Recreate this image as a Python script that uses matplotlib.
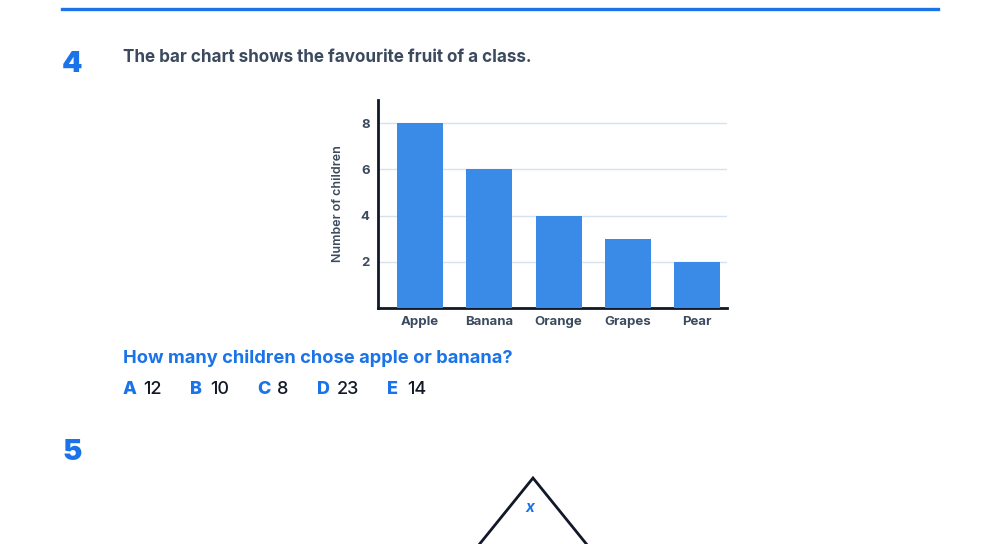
import matplotlib
matplotlib.use("Agg")
import matplotlib.pyplot as plt
from matplotlib.lines import Line2D

plt.rcParams['font.family'] = ['Inter', 'DejaVu Sans']

fruits = ["Apple", "Banana", "Orange", "Grapes", "Pear"]
children = [8, 6, 4, 3, 2]
yticks = [2, 4, 6, 8]
answer_letters = ["A", "B", "C", "D", "E"]
answer_values = ["12", "10", "8", "23", "14"]

W, H = 1000, 544
BLUE = "#1a73e8"
BAR = "#3a8ae8"
SLATE = "#3b4a5e"
DARK = "#111827"

fig = plt.figure(figsize=(W / 100, H / 100), dpi=100)

def fx(x):
    return x / W

def fy(y):
    return 1 - y / H

# top rule
fig.add_artist(Line2D([fx(62), fx(938)], [fy(9), fy(9)], color=BLUE, lw=2.4,
                      transform=fig.transFigure))

fig.text(fx(62), fy(64), "4", color=BLUE, fontsize=21, fontweight="black", va="center", ha="left")
fig.text(fx(123), fy(58), "The bar chart shows the favourite fruit of a class.", color=SLATE,
         fontsize=12.3, fontweight="bold", va="center", ha="left")

ax = fig.add_axes([fx(378), fy(308), fx(727) - fx(378), fy(100) - fy(308)])
x = list(range(len(fruits)))
ax.bar(x, children, width=0.665, color=BAR, zorder=3)
ax.set_xlim(-0.607, 4.43)
ax.set_ylim(0, 9)
ax.set_yticks(yticks)
ax.set_xticks(x)
ax.set_xticklabels(fruits)
ax.grid(axis="y", color="#d6e2f0", lw=1, zorder=0)
ax.tick_params(length=0, labelsize=9.5, labelcolor=SLATE)
for lab in ax.get_xticklabels() + ax.get_yticklabels():
    lab.set_fontweight("bold")
ax.tick_params(axis="x", pad=6)
ax.tick_params(axis="y", pad=6)
for s in ["top", "right"]:
    ax.spines[s].set_visible(False)
for s in ["left", "bottom"]:
    ax.spines[s].set_color(DARK)
    ax.spines[s].set_linewidth(2)
ax.set_ylabel("Number of children", fontsize=9, color=SLATE, fontweight="semibold", labelpad=12)

fig.text(fx(123), fy(358), "How many children chose apple or banana?", color=BLUE,
         fontsize=13.2, fontweight="bold", va="center", ha="left")

letter_x = [123, 190, 257, 317, 387]
for lx, l, v in zip(letter_x, answer_letters, answer_values):
    fig.text(fx(lx), fy(389), l, color=BLUE, fontsize=13, fontweight="heavy", va="center", ha="left")
    fig.text(fx(lx + 20), fy(389), v, color=DARK, fontsize=13, fontweight="medium", va="center", ha="left")

fig.text(fx(62), fy(453), "5", color=BLUE, fontsize=21, fontweight="black", va="center", ha="left")

fig.add_artist(Line2D([fx(478), fx(533), fx(588)], [fy(546), fy(478), fy(546)], color=DARK, lw=2,
                      transform=fig.transFigure, solid_joinstyle="miter"))
fig.text(fx(530), fy(507), "x", color=BLUE, fontsize=11, fontweight="bold", style="italic",
         va="center", ha="center")

fig.savefig("out.png", dpi=100, facecolor="white")
